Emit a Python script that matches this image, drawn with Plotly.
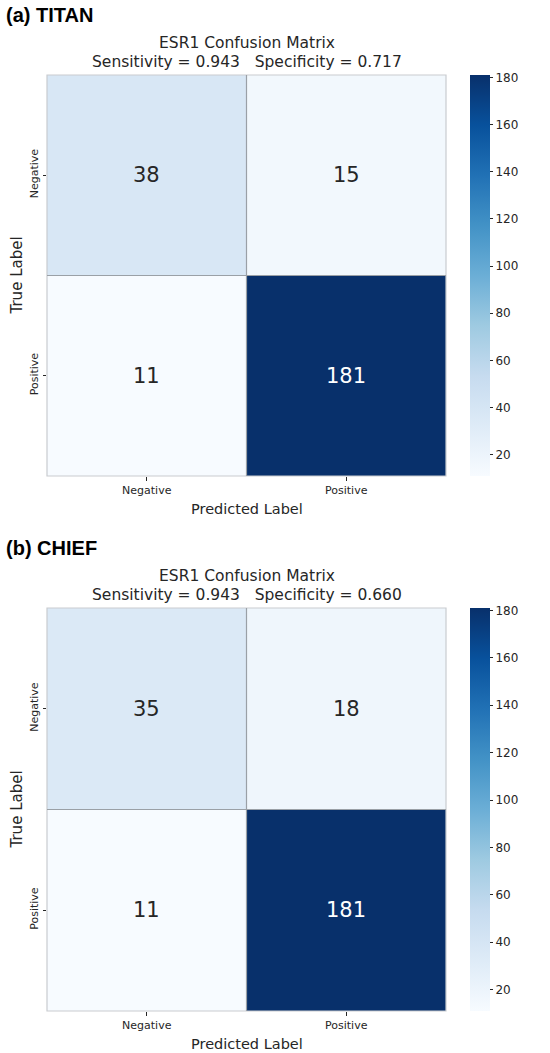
import plotly.graph_objects as go

labels = ["Negative", "Positive"]
panel_titles = ["(a) TITAN", "(b) CHIEF"]
matrix_a = [[38, 15], [11, 181]]
matrix_b = [[35, 18], [11, 181]]
sens = [0.943, 0.943]
spec = [0.717, 0.660]
cbar_ticks = [20, 40, 60, 80, 100, 120, 140, 160, 180]

blues = [
    [0.0, "rgb(247,251,255)"], [0.125, "rgb(222,235,247)"], [0.25, "rgb(198,219,239)"],
    [0.375, "rgb(158,202,225)"], [0.5, "rgb(107,174,214)"], [0.625, "rgb(66,146,198)"],
    [0.75, "rgb(33,113,181)"], [0.875, "rgb(8,81,156)"], [1.0, "rgb(8,48,107)"],
]

W, H = 550, 1053
TXT = "#262626"
FONT = "DejaVu Sans"

# pixel layout of the two panels (top, bottom)
x_left, x_right = 47, 446
panels_px = [(75, 476), (608, 1011)]

def py(p):
    return 1 - p / H

fig = go.Figure()
annotations = []
shapes = []
matrices = [matrix_a, matrix_b]

for i, (mat, (top, bot)) in enumerate(zip(matrices, panels_px)):
    n = i + 1
    xa = "x" if n == 1 else f"x{n}"
    ya = "y" if n == 1 else f"y{n}"
    mn = min(min(r) for r in mat)
    mx = max(max(r) for r in mat)
    fig.add_trace(go.Heatmap(
        z=mat, x=labels, y=labels, xaxis=xa, yaxis=ya,
        colorscale=blues, zmin=mn, zmax=mx,
        colorbar=dict(
            x=470 / W, xanchor="left", y=py((top + bot) / 2), yanchor="middle",
            len=(bot - top) / H, lenmode="fraction", thickness=20, thicknessmode="pixels",
            xpad=0, ypad=0, outlinewidth=0,
            tickvals=cbar_ticks, ticks="outside", ticklen=3.5, tickwidth=0.8,
            tickcolor=TXT, tickfont=dict(family=FONT, size=12, color=TXT),
        ),
        hoverinfo="skip",
    ))
    xkey = "xaxis" if n == 1 else f"xaxis{n}"
    ykey = "yaxis" if n == 1 else f"yaxis{n}"
    fig.update_layout(**{
        xkey: dict(domain=[x_left / W, x_right / W], anchor=ya, type="category",
                   range=[-0.5, 1.5], showgrid=False, zeroline=False,
                   ticks="outside", ticklen=3.5, tickwidth=0.8, tickcolor=TXT,
                   tickfont=dict(family=FONT, size=11, color=TXT),
                   showline=False, fixedrange=True),
        ykey: dict(domain=[py(bot), py(top)], anchor=xa, type="category",
                   range=[1.5, -0.5], showgrid=False, zeroline=False,
                   ticks="outside", ticklen=3.5, tickwidth=0.8, tickcolor=TXT,
                   tickangle=-90, tickfont=dict(family=FONT, size=11, color=TXT),
                   showline=False, fixedrange=True),
    })
    # cell annotations
    for r, row in enumerate(mat):
        for c, v in enumerate(row):
            frac = (v - mn) / (mx - mn)
            annotations.append(dict(
                x=labels[c], y=labels[r], xref=xa, yref=ya, text=str(v), showarrow=False,
                font=dict(family=FONT, size=21, color="white" if frac > 0.6 else TXT),
            ))
    # cell separators and border
    shapes.append(dict(type="rect", xref=f"{xa} domain", yref=f"{ya} domain",
                       x0=0, x1=1, y0=0, y1=1, line=dict(color="#c9ccd0", width=1.2)))
    shapes.append(dict(type="line", xref=xa, yref=f"{ya} domain", x0=0.5, x1=0.5,
                       y0=0, y1=1, line=dict(color="#9aa0a6", width=1.2)))
    shapes.append(dict(type="line", xref=f"{xa} domain", yref=ya, x0=0, x1=1,
                       y0=0.5, y1=0.5, line=dict(color="#9aa0a6", width=1.2)))
    xc = (x_left + x_right) / 2 / W
    # titles
    annotations.append(dict(x=xc, y=py(top - 32), xref="paper", yref="paper",
                            text="ESR1 Confusion Matrix", showarrow=False,
                            font=dict(family=FONT, size=15.5, color=TXT),
                            xanchor="center", yanchor="middle"))
    annotations.append(dict(x=xc, y=py(top - 13), xref="paper", yref="paper",
                            text=f"Sensitivity = {sens[i]:.3f}   Specificity = {spec[i]:.3f}",
                            showarrow=False, font=dict(family=FONT, size=15.5, color=TXT),
                            xanchor="center", yanchor="middle"))
    # panel label
    annotations.append(dict(x=4 / W, y=py(top - 60), xref="paper", yref="paper",
                            text=f"<b>{panel_titles[i]}</b>", showarrow=False,
                            font=dict(family="Liberation Sans", size=20, color="black"),
                            xanchor="left", yanchor="middle"))
    # axis titles
    annotations.append(dict(x=xc, y=py(bot + 33), xref="paper", yref="paper",
                            text="Predicted Label", showarrow=False,
                            font=dict(family=FONT, size=14.5, color=TXT),
                            xanchor="center", yanchor="middle"))
    annotations.append(dict(x=16 / W, y=py((top + bot) / 2), xref="paper", yref="paper",
                            text="True Label", showarrow=False, textangle=-90,
                            font=dict(family=FONT, size=15, color=TXT),
                            xanchor="center", yanchor="middle"))

fig.update_layout(
    width=W, height=H,
    margin=dict(l=0, r=0, t=0, b=0),
    paper_bgcolor="white", plot_bgcolor="white",
    annotations=annotations, shapes=shapes,
    showlegend=False,
)

fig.write_html("out.html", config={"displayModeBar": False},
               post_script="document.body.style.margin='0';document.body.style.padding='0';")
